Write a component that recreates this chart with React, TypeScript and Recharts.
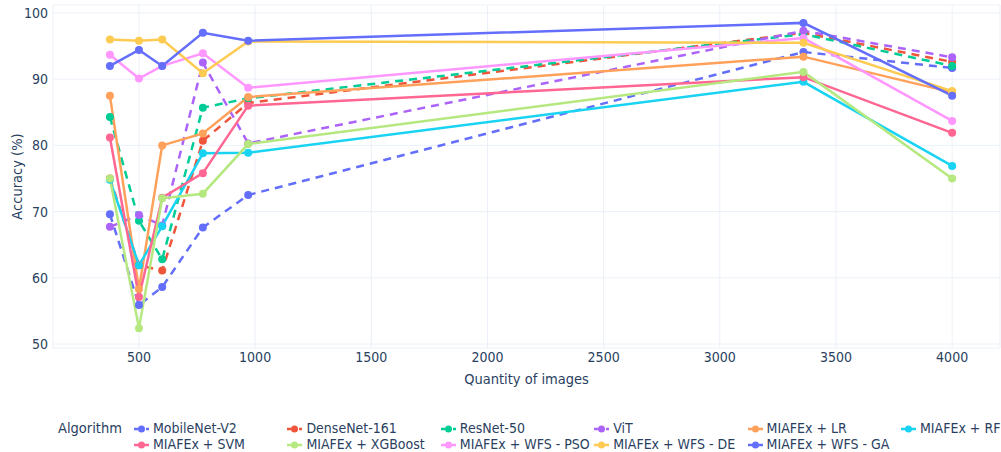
import React from "react";
import {
  CartesianGrid,
  Label,
  Legend,
  Line,
  LineChart,
  XAxis,
  YAxis,
} from "recharts";

// Quantity of images used for each training run
const SIZES = [375, 500, 600, 775, 970, 3360, 4000];

// Accuracy (%) per algorithm, one value per size
const MOBILENET_V2 = [69.6, 55.9, 58.6, 67.6, 72.5, 94.1, 91.7];
const DENSENET_161 = [75.0, 61.9, 61.1, 80.7, 86.4, 97.0, 92.6];
const RESNET_50 = [84.3, 68.6, 62.8, 85.7, 87.1, 96.8, 92.0];
const VIT = [67.7, 69.5, 67.9, 92.5, 80.3, 97.3, 93.3];
const MIAFEX_LR = [87.5, 58.3, 80.0, 81.8, 87.3, 93.4, 88.0];
const MIAFEX_RF = [74.8, 61.9, 67.8, 78.8, 78.9, 89.6, 76.9];
const MIAFEX_SVM = [81.2, 57.1, 72.1, 75.8, 86.0, 90.3, 81.9];
const MIAFEX_XGB = [75.0, 52.4, 72.0, 72.7, 80.2, 91.1, 75.0];
const WFS_PSO = [93.7, 90.1, 92.0, 93.9, 88.7, 96.2, 83.7];
const WFS_DE = [96.0, 95.8, 96.0, 90.9, 95.7, 95.5, 88.2];
const WFS_GA = [92.0, 94.4, 92.0, 97.0, 95.8, 98.5, 87.5];

const X_TICKS = [500, 1000, 1500, 2000, 2500, 3000, 3500, 4000];
const Y_TICKS = [50, 60, 70, 80, 90, 100];

const SERIES = [
  { name: "MobileNet-V2", values: MOBILENET_V2, color: "#636efa", dashed: true },
  { name: "DenseNet-161", values: DENSENET_161, color: "#ef553b", dashed: true },
  { name: "ResNet-50", values: RESNET_50, color: "#00cc96", dashed: true },
  { name: "ViT", values: VIT, color: "#ab63fa", dashed: true },
  { name: "MIAFEx + LR", values: MIAFEX_LR, color: "#ffa15a", dashed: false },
  { name: "MIAFEx + RF", values: MIAFEX_RF, color: "#19d3f3", dashed: false },
  { name: "MIAFEx + SVM", values: MIAFEX_SVM, color: "#ff6692", dashed: false },
  { name: "MIAFEx + XGBoost", values: MIAFEX_XGB, color: "#b6e880", dashed: false },
  { name: "MIAFEx + WFS - PSO", values: WFS_PSO, color: "#ff97ff", dashed: false },
  { name: "MIAFEx + WFS - DE", values: WFS_DE, color: "#fecb52", dashed: false },
  { name: "MIAFEx + WFS - GA", values: WFS_GA, color: "#636efa", dashed: false },
];

const data = SIZES.map((size, i) => {
  const row: Record<string, number> = { size };
  SERIES.forEach((s) => {
    row[s.name] = s.values[i];
  });
  return row;
});

const FONT = "'DejaVu Sans Condensed', 'DejaVu Sans', sans-serif";
const TEXT = "#2a3f5f";
const GRID = "#ebf0f8";

// Two-row legend in trace order, six entries per row
const LegendBox = () => (
  <div
    style={{
      position: "relative",
      width: 1001,
      height: 38,
      fontFamily: FONT,
      fontSize: 14,
      color: TEXT,
      overflow: "hidden",
    }}
  >
    <div style={{ position: "absolute", left: 58, top: 6, fontSize: 14.5 }}>
      Algorithm
    </div>
    {SERIES.map((s, i) => {
      const col = i % 6;
      const rowIdx = Math.floor(i / 6);
      return (
        <div
          key={s.name}
          style={{
            position: "absolute",
            left: 134 + col * 153.4,
            top: rowIdx * 16 + 6,
            display: "flex",
            alignItems: "center",
            whiteSpace: "nowrap",
            lineHeight: "17px",
          }}
        >
          <svg width={15} height={10} style={{ marginRight: 4 }}>
            <line
              x1={0}
              y1={5}
              x2={15}
              y2={5}
              stroke={s.color}
              strokeWidth={2.5}
              strokeDasharray={s.dashed ? "4 2" : undefined}
            />
            <circle cx={7.5} cy={5} r={3.5} fill={s.color} />
          </svg>
          <span>{s.name}</span>
        </div>
      );
    })}
  </div>
);

export default function App() {
  return (
    <div style={{ position: "absolute", left: 0, top: 0, background: "#fff" }}>
      <LineChart
        width={1001}
        height={452}
        data={data}
        margin={{ top: 5, right: 1, left: 0, bottom: 59 }}
      >
        <CartesianGrid stroke={GRID} strokeWidth={1} vertical horizontal />
        <XAxis
          dataKey="size"
          type="number"
          domain={[130, 4206]}
          ticks={X_TICKS}
          axisLine={false}
          tickLine={false}
          tickSize={0}
          tickMargin={4}
          height={45}
          tick={{ fill: TEXT, fontSize: 14, fontFamily: FONT }}
        >
          <Label
            value="Quantity of images"
            position="insideBottom"
            offset={9}
            style={{ fill: TEXT, fontSize: 14.5, fontFamily: FONT }}
          />
        </XAxis>
        <YAxis
          type="number"
          domain={[49.4, 101.2]}
          ticks={Y_TICKS}
          allowDataOverflow
          axisLine={false}
          tickLine={false}
          tickSize={0}
          tickMargin={5}
          width={53}
          tick={{ fill: TEXT, fontSize: 14, fontFamily: FONT }}
        >
          <Label
            content={({ viewBox }: any) => {
              const cx = viewBox.x + 17;
              const cy = viewBox.y + viewBox.height / 2;
              return (
                <text
                  x={cx}
                  y={cy}
                  transform={`rotate(-90, ${cx}, ${cy})`}
                  textAnchor="middle"
                  dominantBaseline="central"
                  fill={TEXT}
                  fontSize={14.5}
                  fontFamily={FONT}
                >
                  Accuracy (%)
                </text>
              );
            }}
          />
        </YAxis>
        <Legend
          layout="vertical"
          align="center"
          verticalAlign="middle"
          content={<LegendBox />}
          wrapperStyle={{ left: 0, top: 414, width: 1001, height: 38 }}
        />
        {SERIES.map((s) => (
          <Line
            key={s.name}
            type="linear"
            dataKey={s.name}
            name={s.name}
            stroke={s.color}
            strokeWidth={2.5}
            strokeDasharray={s.dashed ? "8 6" : undefined}
            dot={{ r: 4, fill: s.color, stroke: s.color, strokeWidth: 0 }}
            activeDot={false}
            isAnimationActive={false}
          />
        ))}
      </LineChart>
    </div>
  );
}
